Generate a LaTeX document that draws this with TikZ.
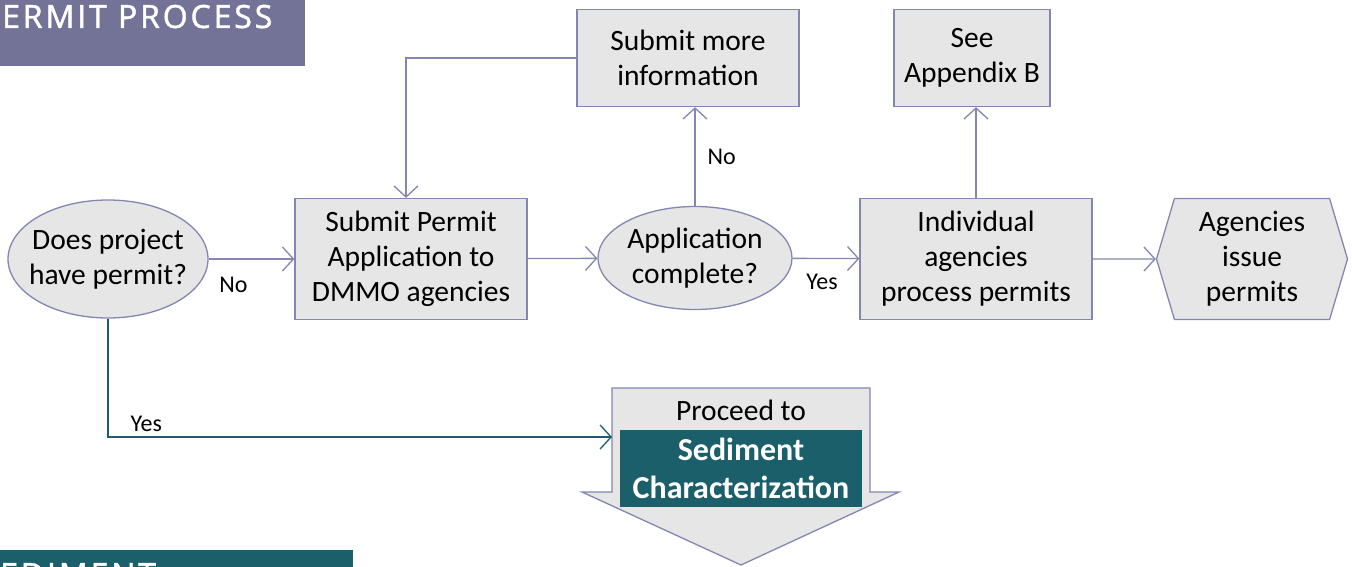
\documentclass[tikz,border=0pt]{standalone}
\usepackage{fontspec}
\setmainfont{Carlito}
\newfontfamily\headfont[LetterSpace=9,FakeBold=1.5]{Open Sans}
\usetikzlibrary{shapes.geometric,shapes.symbols,arrows.meta}
\definecolor{lineblue}{HTML}{8585B2}
\definecolor{boxgray}{HTML}{E6E6E6}
\definecolor{sedteal}{HTML}{1A5F6A}
\definecolor{headpurple}{HTML}{737398}

\begin{document}
\begin{tikzpicture}[
		x=1pt, y=-1pt,
		every node/.style={font=\fontsize{29.5}{35}\selectfont, align=center, inner sep=0pt},
		box/.style={rectangle, draw=lineblue, fill=boxgray, line width=1.3pt},
		query/.style={ellipse, draw=lineblue, fill=boxgray, line width=1.3pt, inner xsep=-25pt},
		flow/.style={draw=lineblue, line width=1.3pt, -{Straight Barb[length=11pt,width=24pt]}},
		yesflow/.style={flow, draw=sedteal},
		tag/.style={font=\fontsize{24}{28}\selectfont}
	]
  \useasboundingbox (0,0) rectangle (1352,567);
  \clip (0,0) rectangle (1352,567);
  % section headers
  \fill[headpurple] (0,0) rectangle (305,66);
  \node (head) [anchor=base west, text=white, font=\headfont\fontsize{32}{38}\selectfont] at (2,28) {ERMIT PROCESS};
  \fill[sedteal] (0,550) rectangle (353,580);
  \node (next) [anchor=base west, text=white, font=\headfont\fontsize{32}{38}\selectfont] at (0,586) {EDIMENT};

  % main row
  \node (permit) [query, minimum width=200, minimum height=118] at (108,259) {Does project\\have permit?};
  \node (submit) [box, minimum width=232, minimum height=121] at (411,259) {Submit Permit\\Application to\\DMMO agencies};
  \node (check) [query, minimum width=194, minimum height=103] at (695,258) {Application\\complete?};
  \node (agencies) [box, minimum width=232, minimum height=121] at (976,259) {Individual\\agencies\\process permits};
  \node (issue) [signal, signal to=east and west, signal pointer angle=147, draw=lineblue, fill=boxgray, line width=1.3pt, minimum width=191, minimum height=121] at (1252,259) {Agencies\\issue\\permits};
  % top row
  \node (more) [box, minimum width=222, minimum height=97] at (688,58) {Submit more\\information};
  \node (appendix) [box, minimum width=156, minimum height=97] at (972,58) {See\\Appendix B};

  % proceed arrow
  \draw[lineblue, fill=boxgray, line width=1.3pt] (612,388) -- (870,388) -- (870,492) -- (899,492) -- (741,565) -- (582,492) -- (612,492) -- cycle;
  \coordinate (proceed) at (612,437);
  \node (proceedtxt) at (741,410) {Proceed to};
  \node (sediment) [fill=sedteal, text=white, font=\bfseries\fontsize{32}{38}\selectfont, minimum width=242, minimum height=77] at (741,468) {Sediment\\Characterization};

  \draw[flow] (permit) -- node[tag, pos=0.29, below=17pt] {No} (submit);
  \draw[flow] (submit) -- (check);
  \draw[flow] (check) -- node[tag, pos=0.44, below=15pt] {Yes} (agencies);
  \draw[flow] (agencies) -- (issue);
  \draw[flow] (check) -- node[tag, right=12pt] {No} (check |- more.south);
  \draw[flow] (more.west) -| ([xshift=-5pt]submit.north);
  \draw[flow] (agencies) -- (agencies |- appendix.south);
  \draw[yesflow] (permit.south) |- node[tag, pos=0.538, above=5pt] {Yes} (proceed);
\end{tikzpicture}
\end{document}
